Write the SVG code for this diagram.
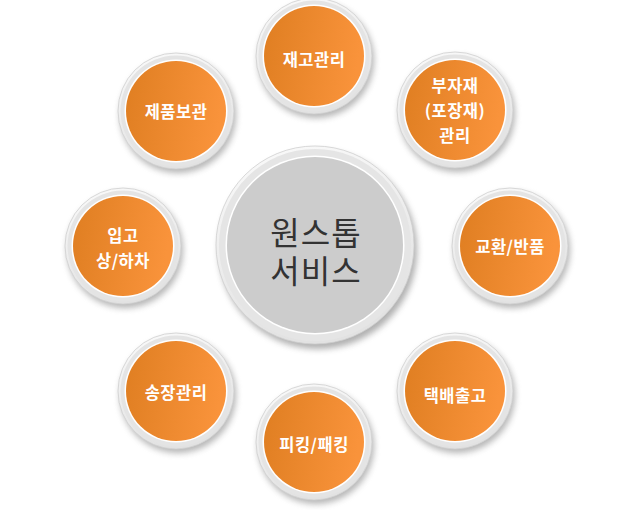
<svg xmlns="http://www.w3.org/2000/svg" width="633" height="510" viewBox="0 0 633 510">
<defs>
  <linearGradient id="org" x1="0" y1="0" x2="1" y2="0.15">
    <stop offset="0" stop-color="#df7e21"/>
    <stop offset="1" stop-color="#f9933b"/>
  </linearGradient>
  <linearGradient id="rim" x1="0" y1="0" x2="0.3" y2="1">
    <stop offset="0" stop-color="#fbfbfb"/>
    <stop offset="1" stop-color="#e2e2e2"/>
  </linearGradient>
  <filter id="sh" x="-30%" y="-30%" width="160%" height="160%">
    <feGaussianBlur stdDeviation="3"/>
  </filter>
  <g id="node">
    <circle cx="2" cy="4" r="58" fill="#7a7a7a" opacity="0.55" filter="url(#sh)"/>
    <circle r="58" fill="url(#rim)" stroke="#cfcfcf" stroke-width="0.8"/>
    <circle r="55.5" fill="#e4e4e4"/>
    <circle r="51.5" fill="#ffffff"/>
    <circle r="50" fill="url(#org)"/>
  </g>
</defs>
<style>
  .t { font-family: "Noto Sans CJK KR", "Noto Sans", sans-serif; font-size: 16.5px; font-weight: bold; fill: #ffffff; text-anchor: middle; dominant-baseline: central; letter-spacing: 0.5px; }
  .c1 { font-family: "Noto Sans CJK KR", "Noto Sans", sans-serif; font-size: 32px; fill: #333333; text-anchor: middle; dominant-baseline: central; letter-spacing: 1px; }
</style>
<rect width="633" height="510" fill="#ffffff"/>
<g id="connectors"></g>
<g id="center">
  <circle cx="318" cy="250" r="99" fill="#6e6e6e" opacity="0.55" filter="url(#sh)"/>
  <circle cx="315" cy="245" r="99" fill="url(#rim)" stroke="#cfcfcf" stroke-width="0.8"/>
  <circle cx="315" cy="245" r="96" fill="#e5e5e5"/>
  <circle cx="315" cy="245" r="89.5" fill="#ffffff"/>
  <circle cx="315" cy="245" r="88" fill="#cccccc"/>
  <text class="c1" x="316" y="231"><tspan x="316" y="231">원스톱</tspan><tspan x="316" y="269">서비스</tspan></text>
</g>
<g id="n-jaego" transform="translate(314,56)"><use href="#node"/><text class="t" x="0" y="3">재고관리</text></g>
<g id="n-bujajae" transform="translate(455,110)"><use href="#node"/><text class="t" x="0" y="-25"><tspan x="0" y="-25">부자재</tspan><tspan x="0" y="0">(포장재)</tspan><tspan x="0" y="25">관리</tspan></text></g>
<g id="n-gyohwan" transform="translate(510,246)"><use href="#node"/><text class="t" x="0" y="0">교환/반품</text></g>
<g id="n-taekbae" transform="translate(455,391)"><use href="#node"/><text class="t" x="0" y="4">택배출고</text></g>
<g id="n-picking" transform="translate(314,442)"><use href="#node"/><text class="t" x="0" y="2">피킹/패킹</text></g>
<g id="n-songjang" transform="translate(176,391)"><use href="#node"/><text class="t" x="0" y="1">송장관리</text></g>
<g id="n-ipgo" transform="translate(123,246)"><use href="#node"/><text class="t" x="0" y="-11"><tspan x="0" y="-11">입고</tspan><tspan x="0" y="14">상/하차</tspan></text></g>
<g id="n-jepum" transform="translate(176,111)"><use href="#node"/><text class="t" x="0" y="0">제품보관</text></g>
</svg>
